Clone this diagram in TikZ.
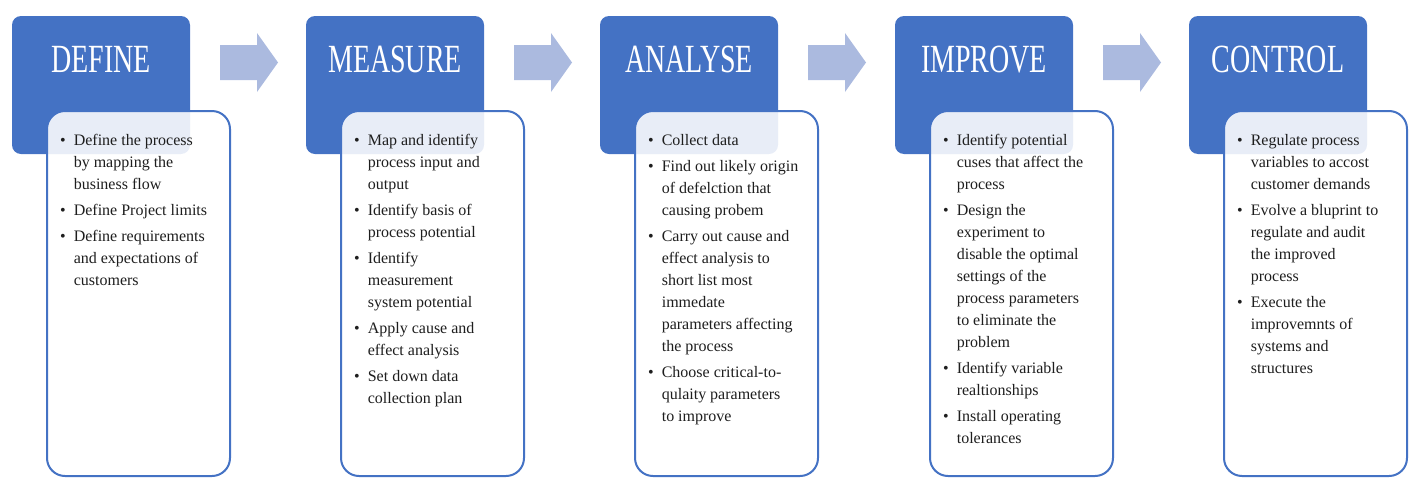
\documentclass[tikz,border=0pt]{standalone}
\usepackage{fontspec}
\setmainfont{Liberation Serif}
\usepackage{graphicx}
\definecolor{dblue}{HTML}{4472C4}
\definecolor{lblue}{HTML}{ABBADF}
\definecolor{txt}{HTML}{1E1E1E}
\newcommand{\bult}{\textbullet}
\newcommand{\ttl}[1]{\scalebox{0.7}[1]{#1}}
\tikzset{
  bluebox/.style={fill=dblue, draw=none, rounded corners=9pt, minimum width=178pt, minimum height=138pt, inner sep=0pt},
  whitebox/.style={draw=dblue, line width=2pt, fill=white, fill opacity=0.88, rounded corners=18pt, minimum width=183pt, minimum height=365pt, inner sep=0pt},
  titletext/.style={text=white, font=\fontsize{40}{40}\selectfont, anchor=base, inner sep=0pt},
  listtext/.style={anchor=north west, inner sep=0pt, text=txt, font=\fontsize{16}{22}\selectfont, align=left},
  flowarrow/.style={fill=lblue, draw=none}
}
\newcommand{\flowarrowpath}{(220,45) -- (257,45) -- (257,33) -- (278,62.5) -- (257,92) -- (257,80) -- (220,80) -- cycle}
\begin{document}
\begin{tikzpicture}[x=1pt,y=-1pt]
\useasboundingbox (0,0) rectangle (1413,477);
% column 1
\begin{scope}
\node[bluebox] (b1) at (101,85) {};
\node[titletext] (t1) at (101,72) {\ttl{DEFINE}};
\node[whitebox] (w1) at (138.5,293.5) {};
\node[listtext] (l1) at (60,130) {\begin{tabular}{@{}l@{\hspace{8pt}}l@{}}
\bult & Define the process\\
 & by mapping the\\
 & business flow\\[4pt]
\bult & Define Project limits\\[4pt]
\bult & Define requirements\\
 & and expectations of\\
 & customers
\end{tabular}};
\fill[flowarrow] \flowarrowpath;
\end{scope}
% column 2
\begin{scope}[xshift=294pt]
\node[bluebox] (b2) at (101,85) {};
\node[titletext] (t2) at (101,72) {\ttl{MEASURE}};
\node[whitebox] (w2) at (138.5,293.5) {};
\node[listtext] (l2) at (60,130) {\begin{tabular}{@{}l@{\hspace{8pt}}l@{}}
\bult & Map and identify\\
 & process input and\\
 & output\\[4pt]
\bult & Identify basis of\\
 & process potential\\[4pt]
\bult & Identify\\
 & measurement\\
 & system potential\\[4pt]
\bult & Apply cause and\\
 & effect analysis\\[4pt]
\bult & Set down data\\
 & collection plan
\end{tabular}};
\fill[flowarrow] \flowarrowpath;
\end{scope}
% column 3
\begin{scope}[xshift=588pt]
\node[bluebox] (b3) at (101,85) {};
\node[titletext] (t3) at (101,72) {\ttl{ANALYSE}};
\node[whitebox] (w3) at (138.5,293.5) {};
\node[listtext] (l3) at (60,130) {\begin{tabular}{@{}l@{\hspace{8pt}}l@{}}
\bult & Collect data\\[4pt]
\bult & Find out likely origin\\
 & of defelction that\\
 & causing probem\\[4pt]
\bult & Carry out cause and\\
 & effect analysis to\\
 & short list most\\
 & immedate\\
 & parameters affecting\\
 & the process\\[4pt]
\bult & Choose critical-to-\\
 & qulaity parameters\\
 & to improve
\end{tabular}};
\fill[flowarrow] \flowarrowpath;
\end{scope}
% column 4
\begin{scope}[xshift=883pt]
\node[bluebox] (b4) at (101,85) {};
\node[titletext] (t4) at (101,72) {\ttl{IMPROVE}};
\node[whitebox] (w4) at (138.5,293.5) {};
\node[listtext] (l4) at (60,130) {\begin{tabular}{@{}l@{\hspace{8pt}}l@{}}
\bult & Identify potential\\
 & cuses that affect the\\
 & process\\[4pt]
\bult & Design the\\
 & experiment to\\
 & disable the optimal\\
 & settings of the\\
 & process parameters\\
 & to eliminate the\\
 & problem\\[4pt]
\bult & Identify variable\\
 & realtionships\\[4pt]
\bult & Install operating\\
 & tolerances
\end{tabular}};
\fill[flowarrow] \flowarrowpath;
\end{scope}
% column 5
\begin{scope}[xshift=1177pt]
\node[bluebox] (b5) at (101,85) {};
\node[titletext] (t5) at (101,72) {\ttl{CONTROL}};
\node[whitebox] (w5) at (138.5,293.5) {};
\node[listtext] (l5) at (60,130) {\begin{tabular}{@{}l@{\hspace{8pt}}l@{}}
\bult & Regulate process\\
 & variables to accost\\
 & customer demands\\[4pt]
\bult & Evolve a bluprint to\\
 & regulate and audit\\
 & the improved\\
 & process\\[4pt]
\bult & Execute the\\
 & improvemnts of\\
 & systems and\\
 & structures
\end{tabular}};
\end{scope}
\end{tikzpicture}
\end{document}
